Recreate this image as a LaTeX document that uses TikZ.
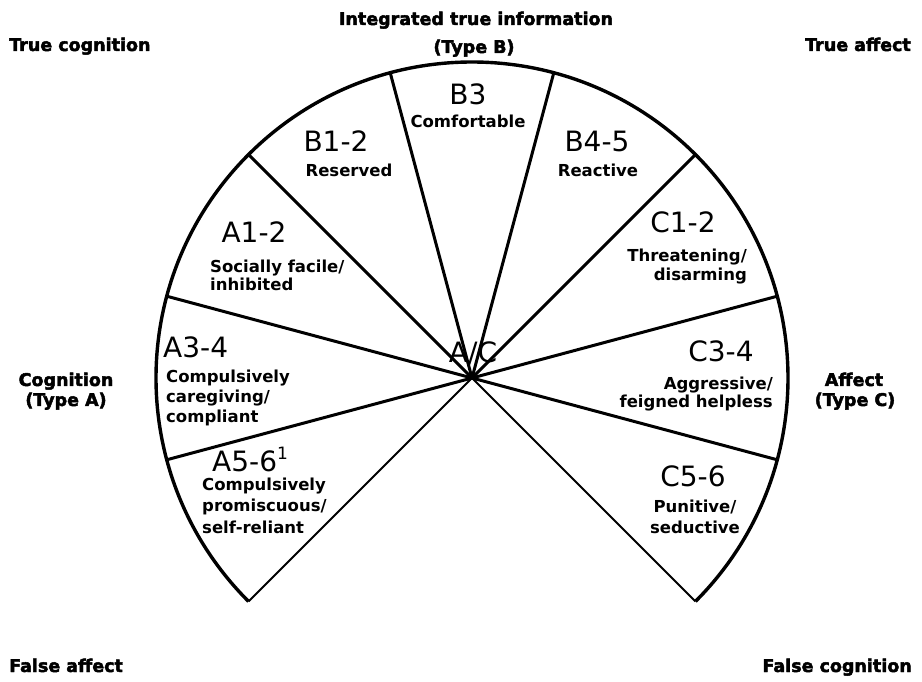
\documentclass[tikz,border=0pt]{standalone}
\usepackage{fontspec}
\setmainfont{DejaVu Sans}
\newfontfamily\heavyfont{DejaVu Sans}[BoldFeatures={FakeBold=2.5}]
\begin{document}
\begin{tikzpicture}[x=1pt,y=1pt,
  big/.style={inner sep=0pt,font=\fontsize{28}{30}\selectfont},
  sm/.style={inner sep=0pt,font=\bfseries\fontsize{16.5}{20}\selectfont},
  corner/.style={inner sep=0pt,font=\heavyfont\bfseries\fontsize{17.5}{20}\selectfont},
  thickline/.style={line width=3pt},
  thinline/.style={line width=1.9pt}]
\useasboundingbox (0,0) rectangle (922,681);
\fill[white] (0,0) rectangle (922,681);
\coordinate (c) at (472,303);
\foreach \a in {-45,-15,15,45,75,105,135,165,195,225}{
  \coordinate (e\a) at ([shift={(\a:316)}]c);
}
% arc
\draw[line width=3.4pt] (e-45) arc[start angle=-45,end angle=225,radius=316];
% radial lines
\foreach \a in {-15,15,45,75,105,135,165,195}{
  \draw[thickline] (c) -- (e\a);
}
\draw[thinline] (c) -- (e-45);
\draw[thinline] (c) -- (e225);

% sector labels
\node[big,anchor=base] (b3) at (468,576) {B3};
\node[sm,anchor=base] (b3t) at (468,553) {Comfortable};
\node[big,anchor=base] (b12) at (336,529) {B1-2};
\node[sm,anchor=base] (b12t) at (349,504) {Reserved};
\node[big,anchor=base] (b45) at (597,529) {B4-5};
\node[sm,anchor=base] (b45t) at (598,504) {Reactive};

\node[big,anchor=base] (a12) at (254,438) {A1-2};
\node[sm,anchor=base west] (a12t1) at (210,408) {Socially facile/};
\node[sm,anchor=base west] (a12t2) at (210,390) {inhibited};

\node[big,anchor=base west] (a34) at (163,323) {A3-4};
\node[sm,anchor=base west] (a34t1) at (166,298) {Compulsively};
\node[sm,anchor=base west] (a34t2) at (166,278) {caregiving/};
\node[sm,anchor=base west] (a34t3) at (166,258) {compliant};

\node[big,anchor=base west] (a56) at (212,209) {A5-6\raisebox{12pt}{\fontsize{17}{17}\selectfont 1}};
\node[sm,anchor=base west] (a56t1) at (202,190) {Compulsively};
\node[sm,anchor=base west] (a56t2) at (202,169) {promiscuous/};
\node[sm,anchor=base west] (a56t3) at (202,147) {self-reliant};

\node[big,anchor=base] (c12) at (683,448) {C1-2};
\node[sm,anchor=base east] (c12t1) at (747,419) {Threatening/};
\node[sm,anchor=base east] (c12t2) at (747,400) {disarming};

\node[big,anchor=base] (c34) at (721,319) {C3-4};
\node[sm,anchor=base east] (c34t1) at (773,291) {Aggressive/};
\node[sm,anchor=base east] (c34t2) at (773,273) {feigned helpless};

\node[big,anchor=base] (c56) at (693,194) {C5-6};
\node[sm,anchor=base] (c56t1) at (695,168) {Punitive/};
\node[sm,anchor=base] (c56t2) at (695,147) {seductive};

\node[big,anchor=base] (ac) at (473,318) {A/C};

% corner labels
\node[corner,anchor=base] (itb1) at (476,656) {Integrated true information};
\node[corner,anchor=base] (itb2) at (474,628) {(Type B)};
\node[corner,anchor=base west] (tc) at (9,630) {True cognition};
\node[corner,anchor=base east] (ta) at (911,630) {True affect};
\node[corner,anchor=base] (cog1) at (66,295) {Cognition};
\node[corner,anchor=base] (cog2) at (66,275) {(Type A)};
\node[corner,anchor=base] (aff1) at (854,295) {Affect};
\node[corner,anchor=base] (aff2) at (855,275) {(Type C)};
\node[corner,anchor=base west] (fa) at (9,9) {False affect};
\node[corner,anchor=base east] (fc) at (912,9) {False cognition};
\end{tikzpicture}
\end{document}
